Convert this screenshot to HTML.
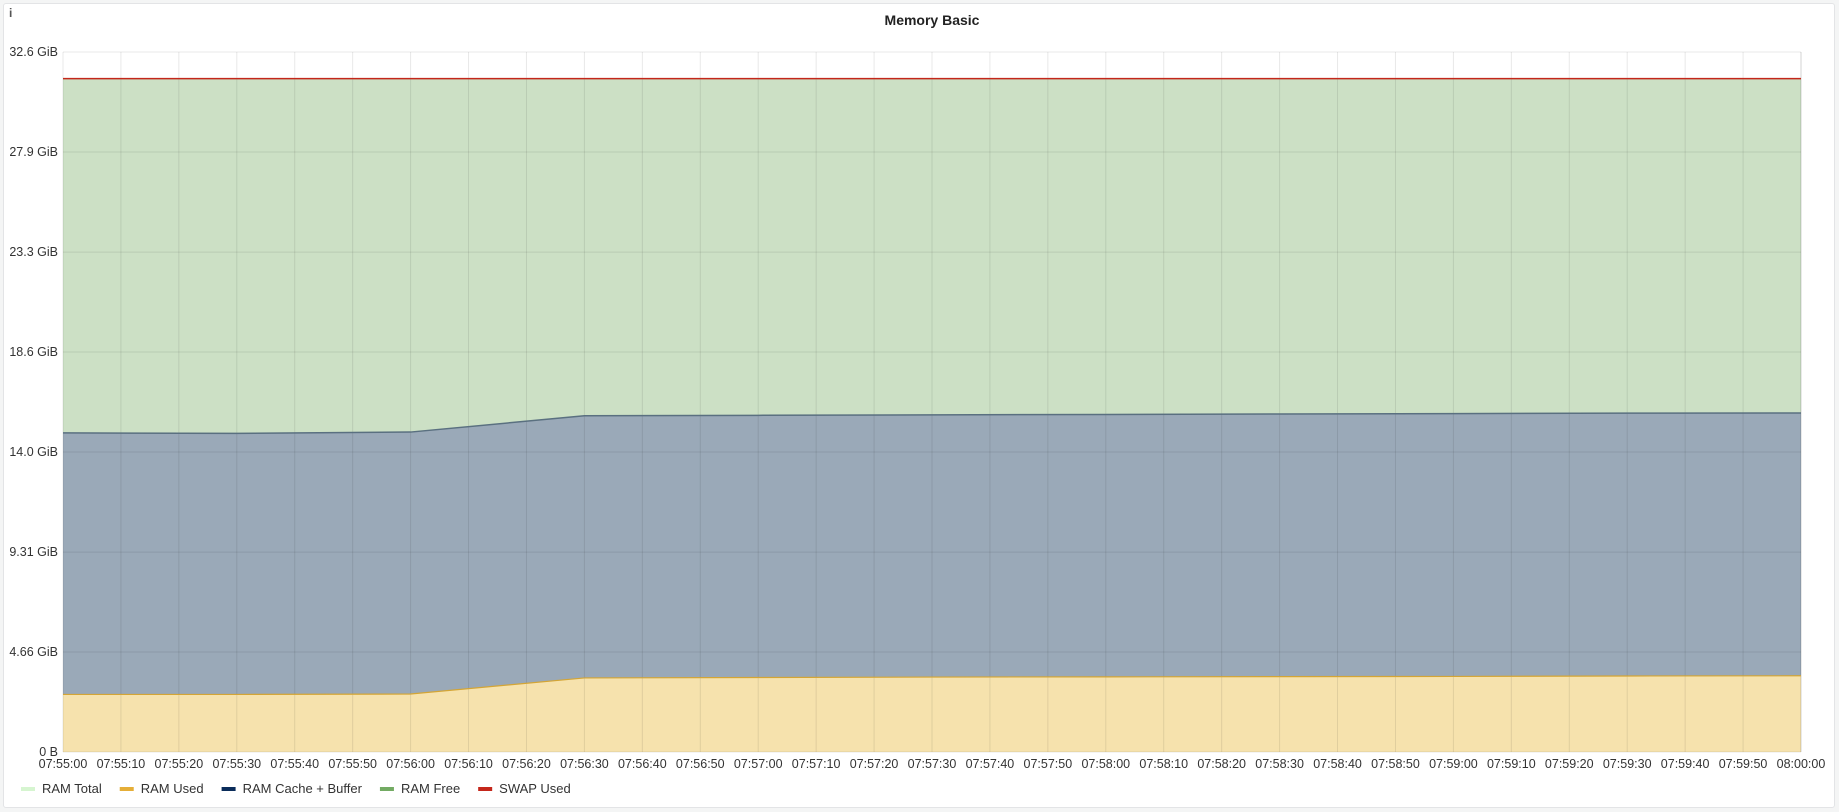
<!DOCTYPE html>
<html><head><meta charset="utf-8"><style>
html,body{margin:0;padding:0;background:#f4f5f5;width:1839px;height:812px;overflow:hidden;font-family:"Liberation Sans",sans-serif}
#panel{position:absolute;left:3px;top:3px;width:1830px;height:803px;background:#fff;border:1px solid #e3e4e6;border-radius:3px}
</style></head><body>
<div id="panel"></div>
<svg id="chart" width="1839" height="812" style="position:absolute;left:0;top:0">
<text x="9" y="17" font-size="12" font-weight="bold" fill="#555">i</text>
<text x="932" y="25" text-anchor="middle" font-size="14" font-weight="bold" fill="#222">Memory Basic</text>
<g id="fills"></g><g id="grid"></g><g id="lines"></g><g id="yticks"></g><g id="xticks"></g><g id="legend"></g>
</svg>
<script>
const times = ["07:55:00","07:55:30","07:56:00","07:56:30","07:57:00","07:57:30","07:58:00","07:58:30","07:59:00","07:59:30","08:00:00"];
const ramTotal = [31.36,31.36,31.36,31.36,31.36,31.36,31.36,31.36,31.36,31.36,31.36];
const ramUsed = [2.68,2.68,2.70,3.45,3.47,3.49,3.50,3.51,3.52,3.54,3.55];
const ramCache = [12.18,12.16,12.20,12.21,12.21,12.21,12.22,12.23,12.24,12.24,12.24];
const swapUsed = [0,0,0,0,0,0,0,0,0,0,0];
const yTickValues = [0,4.66,9.31,13.97,18.63,23.28,27.94,32.6];
const yTickLabels = ["0 B","4.66 GiB","9.31 GiB","14.0 GiB","18.6 GiB","23.3 GiB","27.9 GiB","32.6 GiB"];
const xTickLabels = ["07:55:00","07:55:10","07:55:20","07:55:30","07:55:40","07:55:50","07:56:00","07:56:10","07:56:20","07:56:30","07:56:40","07:56:50","07:57:00","07:57:10","07:57:20","07:57:30","07:57:40","07:57:50","07:58:00","07:58:10","07:58:20","07:58:30","07:58:40","07:58:50","07:59:00","07:59:10","07:59:20","07:59:30","07:59:40","07:59:50","08:00:00"];
const legendNames = ["RAM Total","RAM Used","RAM Cache + Buffer","RAM Free","SWAP Used"];
const legendColors = ["#d6f5d0","#e5ae38","#0a2c5a","#73ab63","#c4271b"];

const L=63,R=1801,T=52,B=752,YMAX=32.6;
const toSec=s=>{const p=s.split(':').map(Number);return p[0]*3600+p[1]*60+p[2];};
const t0=toSec("07:55:00"),t1=toSec("08:00:00");
const xs=s=>L+(toSec(s)-t0)/(t1-t0)*(R-L);
const ys=v=>B-v/YMAX*(B-T);
const NS="http://www.w3.org/2000/svg";
function mk(tag,parent,attrs){const e=document.createElementNS(NS,tag);for(const k in attrs)e.setAttribute(k,attrs[k]);document.getElementById(parent).appendChild(e);return e;}

const free = ramTotal.map((t,i)=>t-ramUsed[i]-ramCache[i]);
const s1 = ramUsed.slice();
const s2 = ramUsed.map((u,i)=>u+ramCache[i]);
const s3 = s2.map((v,i)=>v+free[i]);
const s4 = s3.map((v,i)=>v+swapUsed[i]);
function areaPath(top,bot){let d="";times.forEach((t,i)=>{d+=(i?"L":"M")+xs(t)+","+ys(top[i]);});for(let i=times.length-1;i>=0;i--)d+="L"+xs(times[i])+","+ys(bot?bot[i]:0);return d+"Z";}
function linePath(top){return times.map((t,i)=>(i?"L":"M")+xs(t)+","+ys(top[i])).join("");}

let e;
e=mk('path','fills',{d:areaPath(s3,s2),fill:'#cce0c5'});


e=mk('path','fills',{d:areaPath(s2,s1),fill:'#9aa9b8'});


e=mk('path','fills',{d:areaPath(s1,null),fill:'#f6e2ad'});



xTickLabels.forEach((lab,i)=>{const x=xs(lab);
 const g=mk('line','grid',{x1:x,x2:x,y1:T,y2:B,stroke:'rgba(0,0,0,0.09)','stroke-width':1});
 
 
 const t=mk('text','xticks',{x:x,y:768,'text-anchor':'middle','font-size':12.5,fill:'#333'});
 t.textContent=lab;
 
 
});
yTickValues.forEach((v,i)=>{const y=ys(v);
 const g=mk('line','grid',{x1:L,x2:R,y1:y,y2:y,stroke:'rgba(0,0,0,0.09)','stroke-width':1});
 
 
 const t=mk('text','yticks',{x:L-5,y:y+4,'text-anchor':'end','font-size':12.5,fill:'#333'});
 t.textContent=yTickLabels[i];
 
 
});
e=mk('line','grid',{x1:R,x2:R,y1:T,y2:B,stroke:'rgba(0,0,0,0.09)'});



e=mk('path','lines',{d:linePath(s1),fill:'none',stroke:'#d4a535','stroke-width':1.2});


e=mk('path','lines',{d:linePath(s2),fill:'none',stroke:'#5a7080','stroke-width':1.5});


e=mk('path','lines',{d:linePath(s3),fill:'none',stroke:'#8fbf80','stroke-width':1});


e=mk('path','lines',{d:linePath(s4),fill:'none',stroke:'#c4271b','stroke-width':1.5});



let lx=21;
legendNames.forEach((n,i)=>{
 const r=mk('rect','legend',{x:lx,y:787,width:14,height:4,fill:legendColors[i]});
 
 
 const t=mk('text','legend',{x:lx+21,y:793,'font-size':13,fill:'#333'});
 t.textContent=n;
 
 
 lx+=21+t.getComputedTextLength()+18;
});
</script>
</body></html>
